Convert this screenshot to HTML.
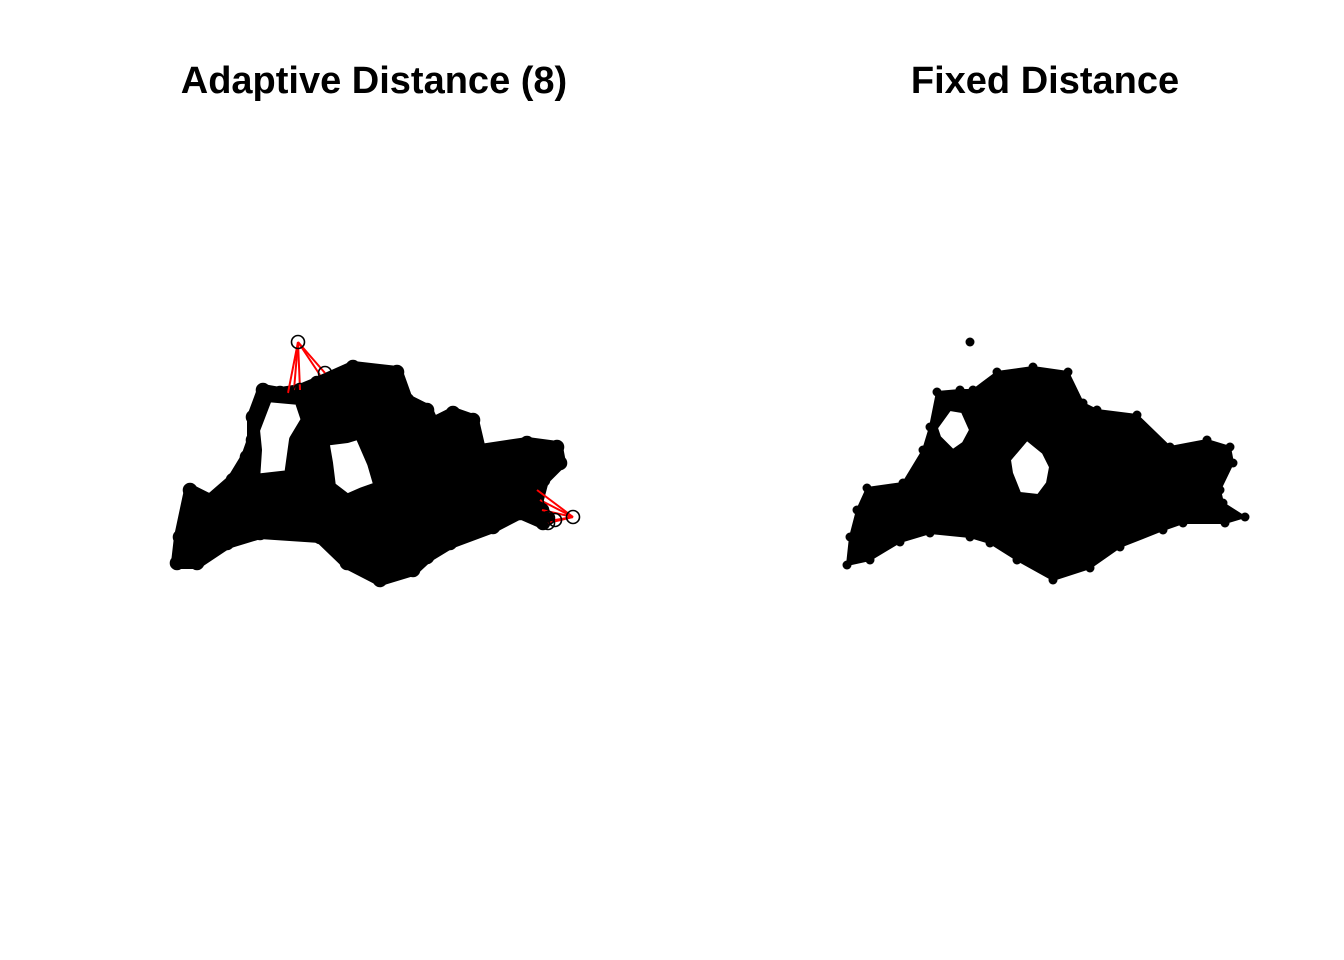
<!DOCTYPE html>
<html><head><meta charset="utf-8"><style>
html,body{margin:0;padding:0;background:#fff;}
svg{display:block;}
text{font-family:"Liberation Sans",Arial,sans-serif;font-weight:bold;font-size:38px;}
</style></head><body>
<svg id="chart" width="1344" height="960" viewBox="0 0 1344 960">
<rect width="1344" height="960" fill="#fff"/>
<text x="374" y="93" text-anchor="middle">Adaptive Distance (8)</text>
<text x="1045" y="93" text-anchor="middle">Fixed Distance</text>
<g id="left"></g>
<g id="right"></g>
</svg>
<script>
// region outlines in data units
const leftOuterX=[7,10,20,40,63,77,83,83,93,110,130,147,183,227,237,257,263,283,303,310,357,387,390,373,367,378,373,350,323,280,257,243,210,177,150,90,57,27];
const leftOuterY=[27,53,100,90,110,133,150,173,200,197,200,207,223,218,190,180,167,177,170,140,147,143,127,110,87,72,67,77,63,47,33,20,10,27,53,57,47,27];
const leftHole1X=[97,130,137,125,120,84,86,84];
const leftHole1Y=[194,191,170,150,114,110,140,160];
const leftHole2X=[153,177,190,203,210,193,177,160,157];
const leftHole2Y=[150,153,157,127,103,97,90,103,127];
const rightOuterX=[5,8,15,25,61,81,88,95,118,131,155,191,226,241,255,295,328,365,388,391,378,381,403,383,341,321,278,248,211,175,148,128,88,58,28];
const rightOuterY=[25,53,80,102,107,140,163,198,200,200,218,223,218,187,180,175,143,150,143,127,100,87,73,67,67,60,43,22,10,30,47,53,57,48,30];
const rightHole1X=[95,108,120,128,121,111,98];
const rightHole1Y=[162,180,178,160,147,140,153];
const rightHole2X=[168,185,201,208,205,196,178,170];
const rightHole2Y=[130,150,137,123,107,95,97,117];
const isolatedX=[128];
const isolatedY=[248];
// adaptive-neighbour links (red) from outliers
const linkFromX=[128,128,128,128,128,403,403,403,403,403];
const linkFromY=[248,248,248,248,248,73,73,73,73,73];
const linkToX=[118,124,130,150,155,367,370,372,378,385];
const linkToY=[197,200,200,215,217,100,90,80,67,70];
const extraCircleX=[155,378,385,403,372];
const extraCircleY=[217,67,70,73,80];

const NS="http://www.w3.org/2000/svg";
function sxL(v){return 170+v;} function sxR(v){return 842+v;} function sy(v){return 590-v;}
function ring(xs,ys,fx){return "M"+xs.map((x,i)=>fx(x)+","+sy(ys[i])).join("L")+"Z";}
function mk(tag,attrs,parent){const e=document.createElementNS(NS,tag);for(const k in attrs)e.setAttribute(k,attrs[k]);parent.appendChild(e);return e;}

const L=document.getElementById('left');
const lp=mk('path',{d:ring(leftOuterX,leftOuterY,sxL)+ring(leftHole1X,leftHole1Y,sxL)+ring(leftHole2X,leftHole2Y,sxL),fill:'#000','fill-rule':'evenodd',stroke:'#000','stroke-width':12,'stroke-linejoin':'round'},L);


for(let i=0;i<linkFromX.length;i++){
  const l=mk('line',{x1:sxL(linkFromX[i]),y1:sy(linkFromY[i]),x2:sxL(linkToX[i]),y2:sy(linkToY[i]),stroke:'#ff0000','stroke-width':2},L);
  
  
}
const allLX=leftOuterX.concat(isolatedX,extraCircleX), allLY=leftOuterY.concat(isolatedY,extraCircleY);
for(let i=0;i<allLX.length;i++){
  const c=mk('circle',{cx:sxL(allLX[i]),cy:sy(allLY[i]),r:6.5,fill:'none',stroke:'#000','stroke-width':1.6},L);
  
  
}

const R=document.getElementById('right');
const rp=mk('path',{d:ring(rightOuterX,rightOuterY,sxR)+ring(rightHole1X,rightHole1Y,sxR)+ring(rightHole2X,rightHole2Y,sxR),fill:'#000','fill-rule':'evenodd',stroke:'#000','stroke-width':2,'stroke-linejoin':'round'},R);


const allRX=rightOuterX.concat(isolatedX), allRY=rightOuterY.concat(isolatedY);
for(let i=0;i<allRX.length;i++){
  const c=mk('circle',{cx:sxR(allRX[i]),cy:sy(allRY[i]),r:4.5,fill:'#000'},R);
  
  
}
</script>
</body></html>
